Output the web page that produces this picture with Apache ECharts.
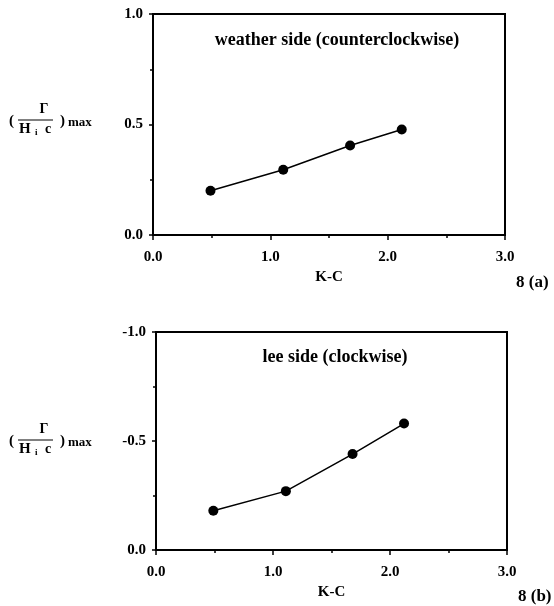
<!DOCTYPE html>
<html>
<head>
<meta charset="utf-8">
<script src="https://cdn.jsdelivr.net/npm/echarts@6/dist/echarts.min.js"></script>
<style>
  body { margin: 0; background: #fff; }
  #chart { width: 554px; height: 606px; }
</style>
</head>
<body>
<div id="chart"></div>
<script>
// K-C values (same for both panels)
var kcValues = [0.49, 1.11, 1.68, 2.12];
// (Gamma / Hi c)max, weather side (counterclockwise)
var weatherSide = [0.20, 0.295, 0.405, 0.477];
// (Gamma / Hi c)max, lee side (clockwise)
var leeSide = [-0.18, -0.27, -0.44, -0.58];
var xTicks = ['0.0', '1.0', '2.0', '3.0'];

var font = 'Liberation Serif';

function pairs(xs, ys) {
    var out = [];
    for (var i = 0; i < xs.length; i++) out.push([xs[i], ys[i]]);
    return out;
}

function txt(x, y, s, size, align) {
    return {
        type: 'text', x: x, y: y,
        style: { text: s, font: 'bold ' + size + 'px ' + font, fill: '#000', align: align || 'left', verticalAlign: 'middle' }
    };
}

function yLabel(cy) {
    // the fraction label  ( Γ / H_i c )max, cy = line of the fraction
    return {
        type: 'group', x: 0, y: cy,
        children: [
            txt(9, 1, '(', 15),
            txt(44, -11, 'Γ', 14, 'center'),
            { type: 'line', shape: { x1: 18, y1: 0, x2: 53, y2: 0 }, style: { stroke: '#000', lineWidth: 1 } },
            txt(19, 9, 'H', 15),
            txt(35, 13, 'i', 9),
            txt(45, 9, 'c', 14),
            txt(60, 1, ')', 15),
            txt(68, 3, 'max', 13)
        ]
    };
}

function xAxisCfg(grid) {
    return {
        type: 'value', gridIndex: grid, min: 0, max: 3, interval: 1,
        axisLine: { show: true, onZero: false, lineStyle: { color: '#000', width: 2 } },
        axisTick: { show: true, inside: false, length: 5, lineStyle: { color: '#000', width: 1.5 } },
        minorTick: { show: true, splitNumber: 2, length: 3, lineStyle: { color: '#000', width: 1.5 } },
        splitLine: { show: false },
        axisLabel: {
            color: '#000', fontFamily: font, fontWeight: 'bold', fontSize: 15, margin: 15,
            formatter: function (v) { return xTicks[Math.round(v)]; }
        },
        name: 'K-C', nameLocation: 'middle', nameGap: 35,
        nameTextStyle: { color: '#000', fontFamily: font, fontWeight: 'bold', fontSize: 15 }
    };
}

function yAxisCfg(grid, min, max, inverse) {
    return {
        type: 'value', gridIndex: grid, min: min, max: max, interval: 0.5, inverse: inverse,
        axisLine: { show: true, onZero: false, lineStyle: { color: '#000', width: 2 } },
        axisTick: { show: true, inside: false, length: 4, lineStyle: { color: '#000', width: 1.5 } },
        minorTick: { show: true, splitNumber: 2, length: 3, lineStyle: { color: '#000', width: 1.5 } },
        splitLine: { show: false },
        axisLabel: {
            color: '#000', fontFamily: font, fontWeight: 'bold', fontSize: 15, margin: 10,
            formatter: function (v) { return v.toFixed(1); }
        }
    };
}

var myChart = echarts.init(document.getElementById('chart'));
var option = {
    backgroundColor: '#fff',
    animation: false,
    grid: [
        { left: 153, top: 14, width: 352, height: 221, show: true, borderColor: '#000', borderWidth: 2, backgroundColor: 'transparent' },
        { left: 156, top: 332, width: 351, height: 218, show: true, borderColor: '#000', borderWidth: 2, backgroundColor: 'transparent' }
    ],
    xAxis: [xAxisCfg(0), xAxisCfg(1)],
    yAxis: [yAxisCfg(0, 0, 1, false), yAxisCfg(1, -1, 0, true)],
    series: [
        {
            name: 'weather side', type: 'line', xAxisIndex: 0, yAxisIndex: 0,
            data: pairs(kcValues, weatherSide),
            symbol: 'circle', symbolSize: 10,
            lineStyle: { color: '#000', width: 1.5 },
            itemStyle: { color: '#000' }
        },
        {
            name: 'lee side', type: 'line', xAxisIndex: 1, yAxisIndex: 1,
            data: pairs(kcValues, leeSide),
            symbol: 'circle', symbolSize: 10,
            lineStyle: { color: '#000', width: 1.5 },
            itemStyle: { color: '#000' }
        }
    ],
    graphic: [
        txt(337, 40, 'weather side (counterclockwise)', 18, 'center'),
        txt(335, 357, 'lee side (clockwise)', 18, 'center'),
        yLabel(120),
        yLabel(440),
        txt(516, 283, '8 (a)', 17),
        txt(518, 597, '8 (b)', 17)
    ]
};
myChart.setOption(option);
</script>
</body>
</html>
